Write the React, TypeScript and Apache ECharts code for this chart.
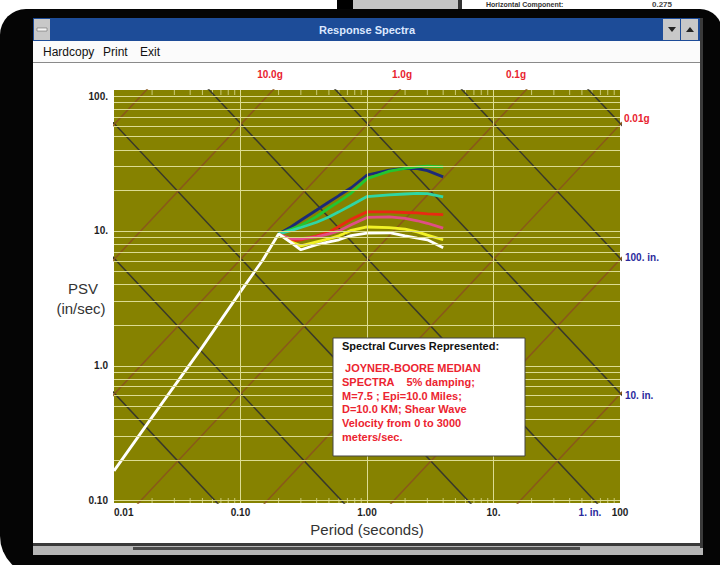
import React, { useEffect, useRef } from "react";
import * as echarts from "echarts";

// ---------- axes ----------
const periodRange = [0.01, 100];
const psvRange = [0.096, 111];
const periodTicks = [0.01, 0.1, 1, 10, 100];
const periodTickLabels = ["0.01", "0.10", "1.00", "10.", "100"];
const psvTicks = [0.1, 1, 10, 100];
const psvTickLabels = ["0.10", "1.0", "10.", "100."];
const minorSteps = [2, 3, 4, 5, 6, 7, 8, 9];
const periodDecades = [0.01, 0.1, 1, 10];
const psvDecades = [0.1, 1, 10];

// ---------- tripartite grid ----------
const accelLinesG = [100, 10, 1, 0.1, 0.01, 0.001, 0.0001];
const dispLinesIn = [0.001, 0.01, 0.1, 1, 10, 100, 1000];
const G_IN = 386.09;

// ---------- spectra ----------
const risePeriods = [0.01, 0.02, 0.05, 0.1, 0.15];
const risePSV = [0.166, 0.416, 1.38, 3.55, 6.09];

const spectraPeriods = [0.2, 0.25, 0.3, 0.4, 0.5, 0.6, 0.75, 1.0, 1.5, 2.0, 2.5, 3.0, 4.0];
const navyPSV = [9.5, 10.7, 12.0, 14.3, 16.4, 18.3, 20.9, 26.0, 28.3, 29.1, 29.0, 28.0, 25.2];
const greenPSV = [9.5, 10.3, 11.0, 12.8, 14.8, 16.5, 19.1, 24.4, 27.8, 29.1, 29.9, 30.3, 29.9];
const cyanPSV = [9.5, 10.07, 10.6, 11.6, 12.7, 13.85, 15.5, 18.0, 18.5, 18.8, 19.0, 18.9, 17.9];
const redPSV = [9.5, 8.45, 8.6, 9.2, 9.8, 10.8, 12.2, 13.85, 13.85, 13.7, 13.6, 13.4, 13.2];
const pinkPSV = [9.5, 8.75, 8.75, 9.05, 9.5, 10.0, 11.1, 12.6, 12.7, 12.4, 11.9, 11.4, 10.5];
const yellowPSV = [9.5, 8.3, 7.75, 8.3, 8.75, 9.2, 10.1, 10.7, 10.6, 10.3, 9.85, 9.3, 8.6];
const whitePSV = [9.5, 8.23, 7.25, 7.9, 8.3, 8.6, 9.25, 9.65, 9.7, 9.2, 8.85, 8.6, 7.5];

const spectraNames = ["navy", "green", "cyan", "red", "pink", "yellow", "white"];
const spectraValues = [navyPSV, greenPSV, cyanPSV, redPSV, pinkPSV, yellowPSV, whitePSV];
const spectraColors = ["#1c2a78", "#22c530", "#2fd6a4", "#e82a12", "#e04e86", "#f2f226", "#ffffff"];

// ---------- texts ----------
const legendTitle = "Spectral Curves Represented:";
const legendLines = [
  " JOYNER-BOORE MEDIAN",
  "SPECTRA    5% damping;",
  "M=7.5 ; Epi=10.0 Miles;",
  "D=10.0 KM; Shear Wave",
  "Velocity from 0 to 3000",
  "meters/sec.",
];
const accelTopLabels = ["10.0g", "1.0g", "0.1g"];
const accelRightLabel = "0.01g";
const dispRightLabels = ["100. in.", "10. in."];
const dispBottomLabel = "1. in.";
const menuItems = ["Hardcopy", "Print", "Exit"];

const FONT = '"Liberation Sans", Arial, sans-serif';

function fmtFrom(ticks: number[], labels: string[]) {
  return (v: number) => {
    for (let i = 0; i < ticks.length; i++) {
      if (Math.abs(Math.log10(v) - Math.log10(ticks[i])) < 0.01) return labels[i];
    }
    return "";
  };
}

export default function App() {
  const ref = useRef<HTMLDivElement>(null);
  useEffect(() => {
    if (!ref.current) return;
    const chart = echarts.init(ref.current, undefined, { renderer: "svg" });

    const hLines: number[] = [...psvTicks];
    psvDecades.forEach((d) => minorSteps.forEach((k) => hLines.push(+(d * k).toPrecision(6))));
    const vLines = [0.1, 1, 10];
    const minorX: number[] = [];
    periodDecades.forEach((d) => minorSteps.forEach((k) => minorX.push(+(d * k).toPrecision(6))));

    const tLo = 0.001, tHi = 1000;
    const dispSeries = dispLinesIn.map((D) => ({
      type: "line",
      silent: true,
      symbol: "none",
      z: 2,
      data: [
        [tLo, (2 * Math.PI * D) / tLo],
        [tHi, (2 * Math.PI * D) / tHi],
      ],
      lineStyle: { color: "#38382a", width: 1.5 },
    }));
    const accelSeries = accelLinesG.map((A) => ({
      type: "line",
      silent: true,
      symbol: "none",
      z: 2,
      data: [
        [tLo, (A * G_IN * tLo) / (2 * Math.PI)],
        [tHi, (A * G_IN * tHi) / (2 * Math.PI)],
      ],
      lineStyle: { color: "#8a581a", width: 1.5 },
    }));

    const spectraSeries = spectraNames.map((name, i) => {
      const pts = spectraPeriods.map((t, j) => [t, spectraValues[i][j]]);
      const data = name === "white" ? [...risePeriods.map((t, j) => [t, risePSV[j]]), ...pts] : pts;
      return {
        type: "line",
        name,
        silent: true,
        symbol: "none",
        z: 3,
        data,
        lineStyle: { color: spectraColors[i], width: 2.8 },
      };
    });

    const gridLineColor = "#dcdc92";

    const chrome: any[] = [
      { type: "rect", shape: { x: 337, y: 0, width: 16, height: 9 }, style: { fill: "#000" } },
      { type: "rect", shape: { x: 353, y: 0, width: 105, height: 9 }, style: { fill: "#c4c4c4" } },
      { type: "rect", shape: { x: 458, y: 0, width: 4, height: 9 }, style: { fill: "#333" } },
      {
        type: "text", x: 486, y: 4,
        style: { text: "Horizontal Component:", font: `bold 7px ${FONT}`, fill: "#333", verticalAlign: "middle", textVerticalAlign: "middle" },
      },
      {
        type: "text", x: 652, y: 4,
        style: { text: "0.275", font: `bold 8px ${FONT}`, fill: "#444", verticalAlign: "middle", textVerticalAlign: "middle" },
      },
      { type: "rect", shape: { x: 0, y: 9, width: 722, height: 567, r: [26, 22, 0, 40] }, style: { fill: "#050505" } },
      // window base
      { type: "rect", shape: { x: 33, y: 18, width: 670, height: 537 }, style: { fill: "#b6b6b6" } },
      { type: "rect", shape: { x: 33, y: 18, width: 670, height: 23 }, style: { fill: "#1d4c98" } },
      { type: "rect", shape: { x: 34, y: 19, width: 16, height: 21 }, style: { fill: "#c8c8c8" } },
      { type: "rect", shape: { x: 37, y: 28, width: 10, height: 3 }, style: { fill: "#f4f4f4", stroke: "#555", lineWidth: 0.5 } },
      { type: "rect", shape: { x: 663, y: 19, width: 17, height: 21 }, style: { fill: "#c8c8c8" } },
      { type: "rect", shape: { x: 681, y: 19, width: 17, height: 21 }, style: { fill: "#c8c8c8" } },
      { type: "polygon", shape: { points: [[668, 27], [676, 27], [672, 32]] }, style: { fill: "#222" } },
      { type: "polygon", shape: { points: [[686, 32], [694, 32], [690, 27]] }, style: { fill: "#222" } },
      {
        type: "text", x: 367, y: 30,
        style: { text: "Response Spectra", font: `bold 11px ${FONT}`, fill: "#dce8ff", align: "center", textAlign: "center", verticalAlign: "middle", textVerticalAlign: "middle" },
      },
      { type: "rect", shape: { x: 33, y: 41, width: 667, height: 21 }, style: { fill: "#fbfbfb" } },
      { type: "rect", shape: { x: 33, y: 62, width: 667, height: 1 }, style: { fill: "#8a8a8a" } },
      { type: "rect", shape: { x: 33, y: 63, width: 667, height: 480 }, style: { fill: "#ffffff" } },
      { type: "rect", shape: { x: 700, y: 18, width: 3, height: 530 }, style: { fill: "#3a3a3a" } },
      { type: "rect", shape: { x: 33, y: 543, width: 670, height: 3 }, style: { fill: "#3a3a3a" } },
      { type: "rect", shape: { x: 133, y: 547, width: 447, height: 3 }, style: { fill: "#4a4a4a" } },
      ...menuItems.map((m, i) => ({
        type: "text", x: [43, 103, 140][i], y: 52,
        style: { text: m, font: `12px ${FONT}`, fill: "#111", verticalAlign: "middle", textVerticalAlign: "middle" },
      })),
    ].map((e) => ({ ...e, z: -5, silent: true }));

    const labelStyle = (fill: string) => ({ font: `bold 10px ${FONT}`, fill });
    const overlay: any[] = [
      ...accelTopLabels.map((t, i) => ({
        type: "text", x: [270, 402, 516][i], y: 74,
        style: { ...labelStyle("#e8222e"), text: t, align: "center", textAlign: "center", verticalAlign: "middle", textVerticalAlign: "middle" },
      })),
      {
        type: "text", x: 624, y: 118,
        style: { ...labelStyle("#e8222e"), text: accelRightLabel, verticalAlign: "middle", textVerticalAlign: "middle" },
      },
      ...dispRightLabels.map((t, i) => ({
        type: "text", x: 625, y: [257, 395][i],
        style: { ...labelStyle("#2a2a9c"), text: t, verticalAlign: "middle", textVerticalAlign: "middle" },
      })),
      {
        type: "text", x: 590, y: 512,
        style: { ...labelStyle("#2a2a9c"), text: dispBottomLabel, align: "center", textAlign: "center", verticalAlign: "middle", textVerticalAlign: "middle" },
      },
      {
        type: "text", x: 83, y: 288,
        style: { text: "PSV", font: `15px ${FONT}`, fill: "#333", align: "center", textAlign: "center", verticalAlign: "middle", textVerticalAlign: "middle" },
      },
      {
        type: "text", x: 81, y: 308,
        style: { text: "(in/sec)", font: `15px ${FONT}`, fill: "#333", align: "center", textAlign: "center", verticalAlign: "middle", textVerticalAlign: "middle" },
      },
      { type: "rect", shape: { x: 333, y: 338, width: 192, height: 118 }, style: { fill: "#ffffff", stroke: "#444", lineWidth: 1 }, z: 10 },
      {
        type: "text", x: 342, y: 346, z: 11,
        style: { text: legendTitle, font: `bold 11px ${FONT}`, fill: "#111", verticalAlign: "middle", textVerticalAlign: "middle" },
      },
      ...legendLines.map((t, i) => ({
        type: "text", x: 342, y: 368 + i * 13.8, z: 11,
        style: { text: t, font: `bold 11px ${FONT}`, fill: "#ec2430", verticalAlign: "middle", textVerticalAlign: "middle" },
      })),
    ].map((e) => ({ z: 5, silent: true, ...e }));

    chart.setOption({
      animation: false,
      backgroundColor: "#ffffff",
      grid: {
        left: 114, top: 90, width: 506, height: 413,
        show: true, backgroundColor: "#868200", borderWidth: 0,
        containLabel: false, outerBoundsMode: "none",
      },
      xAxis: {
        type: "log", logBase: 10, min: periodRange[0], max: periodRange[1],
        axisLine: { show: false }, axisTick: { show: false }, splitLine: { show: false }, minorTick: { show: false },
        name: "Period (seconds)", nameLocation: "middle", nameGap: 17,
        nameTextStyle: { fontFamily: FONT, fontSize: 15, color: "#333", verticalAlign: "top" },
        axisLabel: {
          customValues: periodTicks, formatter: fmtFrom(periodTicks, periodTickLabels),
          fontFamily: FONT, fontSize: 10, fontWeight: "bold", color: "#1e1e1e", margin: 4,
          alignMinLabel: "left",
        },
      },
      yAxis: {
        type: "log", logBase: 10, min: psvRange[0], max: psvRange[1],
        axisLine: { show: false }, axisTick: { show: false }, splitLine: { show: false }, minorTick: { show: false },
        axisLabel: {
          customValues: psvTicks, formatter: fmtFrom(psvTicks, psvTickLabels),
          fontFamily: FONT, fontSize: 10, fontWeight: "bold", color: "#1e1e1e", margin: 6,
        },
      },
      graphic: { elements: [...chrome, ...overlay] },
      series: [
        {
          type: "line", name: "gridlines", silent: true, symbol: "none", z: 1,
          data: [],
          markLine: {
            silent: true, symbol: ["none", "none"], label: { show: false },
            lineStyle: { color: gridLineColor, width: 1, type: "solid" },
            emphasis: { disabled: true },
            data: [...hLines.map((v) => ({ yAxis: v })), ...vLines.map((v) => ({ xAxis: v }))],
          },
        },
        {
          type: "scatter", name: "minorBottom", silent: true, z: 1, clip: false,
          symbol: "rect", symbolSize: [1, 5], symbolOffset: [0, -2.5],
          itemStyle: { color: gridLineColor },
          data: minorX.map((t) => [t, psvRange[0]]),
        },
        {
          type: "scatter", name: "minorTop", silent: true, z: 1, clip: false,
          symbol: "rect", symbolSize: [1, 5], symbolOffset: [0, 2.5],
          itemStyle: { color: gridLineColor },
          data: minorX.map((t) => [t, psvRange[1]]),
        },
        ...dispSeries,
        ...accelSeries,
        ...spectraSeries,
      ],
    });
    return () => chart.dispose();
  }, []);
  return <div ref={ref} style={{ position: "fixed", left: 0, top: 0, width: 720, height: 565 }} />;
}
